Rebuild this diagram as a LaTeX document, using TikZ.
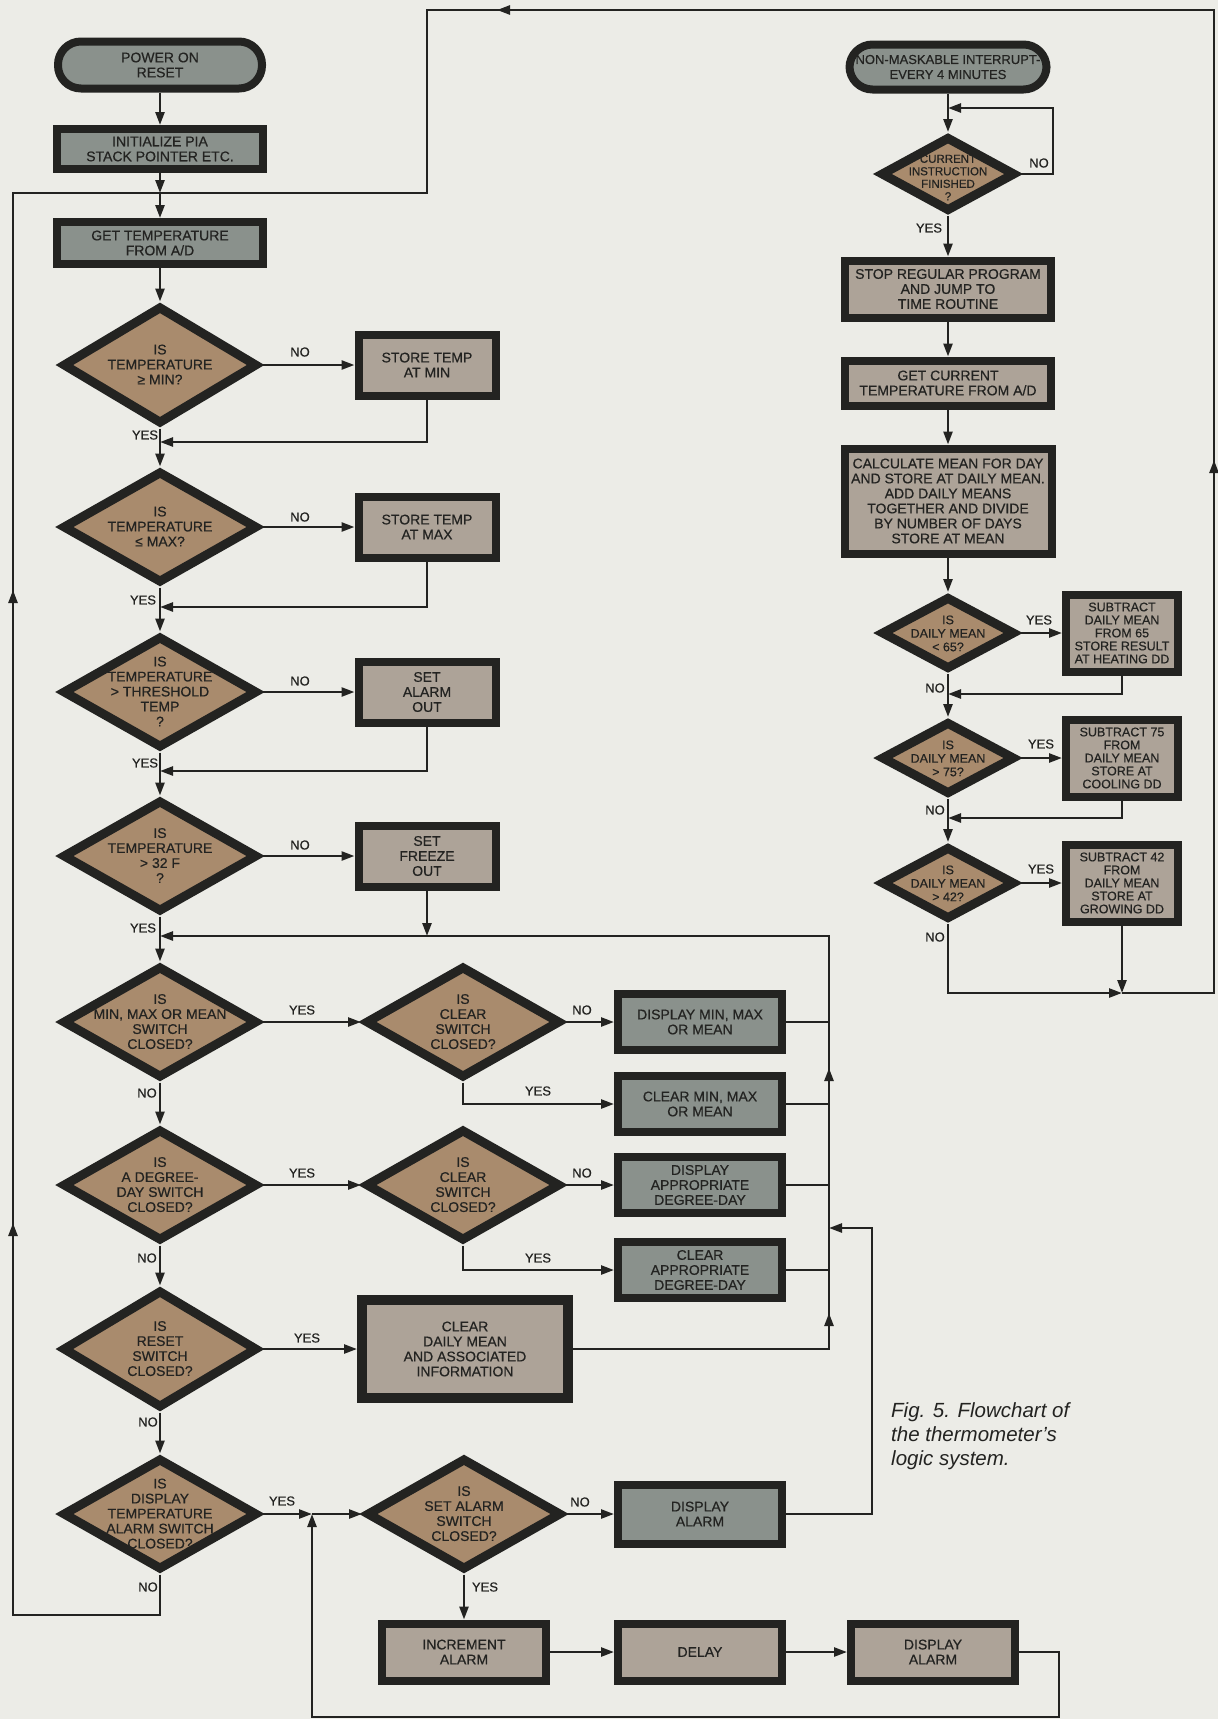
\documentclass[tikz,border=0pt]{standalone}
\usepackage{fontspec}
\setmainfont{Liberation Sans}
\newfontfamily\flowfont{Liberation Sans}[FakeBold=0.5]
\usetikzlibrary{shapes.geometric,arrows.meta,decorations.markings}

\definecolor{paper}{HTML}{ECECE7}
\definecolor{ink}{HTML}{232321}
\definecolor{slate}{HTML}{8A918C}
\definecolor{clay}{HTML}{A98B6D}
\definecolor{sand}{HTML}{ADA398}

\newcommand{\boxfont}{\flowfont\fontsize{14}{15}\selectfont}
\newcommand{\dtext}[2][-5pt]{\makebox[0pt]{\smash{\raisebox{#1}{\begin{tabular}{@{}c@{}}#2\end{tabular}}}}}

\begin{document}
\begin{tikzpicture}[x=1pt, y=-1pt,
  pbox/.style={rectangle, draw=ink, line width=8pt, inner sep=1pt, align=center, text=ink, font=\boxfont},
  gbox/.style={pbox, fill=slate},
  tbox/.style={pbox, fill=sand},
  term/.style={gbox, rounded corners=23pt, inner sep=0pt},
  store/.style={tbox, minimum width=137pt, minimum height=61pt},
  disp/.style={gbox, minimum width=164pt, minimum height=56pt},
  act/.style={tbox, minimum width=164pt, minimum height=57pt},
  sub/.style={tbox, inner sep=0pt, font=\flowfont\fontsize{12.5}{13}\selectfont, minimum width=112pt, minimum height=77pt},
  dec/.style={diamond, draw=ink, line width=9pt, fill=clay, inner sep=0pt, text=ink, font=\boxfont, minimum width=195pt, minimum height=112pt},
  sdec/.style={dec, font=\flowfont\fontsize{12.5}{13.5}\selectfont, minimum width=134pt, minimum height=73pt},
  lbl/.style={font=\flowfont\fontsize{13}{15}\selectfont, text=ink, inner sep=0pt},
  capt/.style={anchor=north west, align=left, inner sep=0pt, text=ink, font=\fontsize{20.5}{24}\selectfont\itshape},
  flow/.style={draw=ink, line width=2.5pt, -{Triangle[length=13pt,width=9pt]}},
  link/.style={draw=ink, line width=2.5pt},
  marr/.style={postaction={decorate, decoration={markings, mark=at position #1 with {\arrow{Triangle[length=13pt,width=9pt]}}}}},
]
% Paper
\fill[paper] (0,0) rectangle (1218,1719);
\useasboundingbox (0,0) rectangle (1218,1719);

% Main program
\node[term, minimum width=204pt, minimum height=47pt] (power) at (160,65) {POWER ON\\RESET};
\node[gbox, minimum width=206pt, minimum height=40pt] (init) at (160,149) {INITIALIZE PIA\\STACK POINTER ETC.};
\node[gbox, minimum width=206pt, minimum height=42pt] (gettemp) at (160,243) {GET TEMPERATURE\\FROM A/D};

\node[dec, minimum height=118pt] (dmin) at (160,365) {\dtext{IS\\TEMPERATURE\\≥ MIN?}};
\node[store] (storemin) at (427,365) {STORE TEMP\\AT MIN};
\node[dec] (dmax) at (160,527) {\dtext{IS\\TEMPERATURE\\≤ MAX?}};
\node[store] (storemax) at (427,527) {STORE TEMP\\AT MAX};
\node[dec] (dthr) at (160,692) {\dtext{IS\\TEMPERATURE\\> THRESHOLD\\TEMP\\?}};
\node[store] (setalarm) at (427,692) {SET\\ALARM\\OUT};
\node[dec] (dfrz) at (160,856) {\dtext{IS\\TEMPERATURE\\> 32 F\\?}};
\node[store] (setfrz) at (427,856) {SET\\FREEZE\\OUT};

% Switch tests
\node[dec] (dsw) at (160,1022) {\dtext{IS\\MIN, MAX OR MEAN\\SWITCH\\CLOSED?}};
\node[dec] (dclr1) at (463,1022) {\dtext{IS\\CLEAR\\SWITCH\\CLOSED?}};
\node[disp] (dispmm) at (700,1022) {DISPLAY MIN, MAX\\OR MEAN};
\node[disp] (clrmm) at (700,1104) {CLEAR MIN, MAX\\OR MEAN};
\node[dec] (ddd) at (160,1185) {\dtext{IS\\A DEGREE-\\DAY SWITCH\\CLOSED?}};
\node[dec] (dclr2) at (463,1185) {\dtext{IS\\CLEAR\\SWITCH\\CLOSED?}};
\node[disp] (dispdd) at (700,1185) {DISPLAY\\APPROPRIATE\\DEGREE-DAY};
\node[disp] (clrdd) at (700,1270) {CLEAR\\APPROPRIATE\\DEGREE-DAY};
\node[dec, minimum height=118pt] (drst) at (160,1349) {\dtext{IS\\RESET\\SWITCH\\CLOSED?}};
\node[tbox, line width=10pt, minimum width=206pt, minimum height=98pt] (clrmean) at (465,1349) {CLEAR\\DAILY MEAN\\AND ASSOCIATED\\INFORMATION};
\node[dec] (dalm) at (160,1514) {\dtext{IS\\DISPLAY\\TEMPERATURE\\ALARM SWITCH\\CLOSED?}};
\node[dec] (dset) at (464,1514) {\dtext{IS\\SET ALARM\\SWITCH\\CLOSED?}};
\node[disp, minimum height=59pt] (dispalm) at (700,1514) {DISPLAY\\ALARM};
\node[act] (incr) at (464,1652) {INCREMENT\\ALARM};
\node[act] (delay) at (700,1652) {DELAY};
\node[act] (dispalm2) at (933,1652) {DISPLAY\\ALARM};

% Timer interrupt
\node[term, font=\flowfont\fontsize{13}{15}\selectfont, minimum width=197pt, minimum height=45pt] (nmi) at (948,67) {NON-MASKABLE INTERRUPT-\\EVERY 4 MINUTES};
\node[sdec, font=\flowfont\fontsize{11.5}{12.5}\selectfont, minimum width=135pt, minimum height=75pt] (dcur) at (948,174) {\dtext[-8pt]{CURRENT\\INSTRUCTION\\FINISHED\\?}};
\node[tbox, minimum width=206pt, minimum height=57pt] (stop) at (948,289) {STOP REGULAR PROGRAM\\AND JUMP TO\\TIME ROUTINE};
\node[tbox, minimum width=206pt, minimum height=45pt] (getcur) at (948,383) {GET CURRENT\\TEMPERATURE FROM A/D};
\node[tbox, minimum width=207pt, minimum height=105pt] (calc) at (948,501) {CALCULATE MEAN FOR DAY\\AND STORE AT DAILY MEAN.\\ADD DAILY MEANS\\TOGETHER AND DIVIDE\\BY NUMBER OF DAYS\\STORE AT MEAN};
\node[sdec] (d65) at (948,633) {\dtext{IS\\DAILY MEAN\\< 65?}};
\node[sub] (sub65) at (1122,633) {SUBTRACT\\DAILY MEAN\\FROM 65\\STORE RESULT\\AT HEATING DD};
\node[sdec] (d75) at (948,758) {\dtext{IS\\DAILY MEAN\\> 75?}};
\node[sub] (sub75) at (1122,758) {SUBTRACT 75\\FROM\\DAILY MEAN\\STORE AT\\COOLING DD};
\node[sdec] (d42) at (948,883) {\dtext{IS\\DAILY MEAN\\> 42?}};
\node[sub] (sub42) at (1122,883) {SUBTRACT 42\\FROM\\DAILY MEAN\\STORE AT\\GROWING DD};

% Caption
\node[capt] (caption) at (891,1402) {Fig. 5. Flowchart of\\the thermometer’s\\logic system.};

% Junctions and bends
\coordinate (jtop) at (160,193);
\coordinate (jmin) at (160,442);
\coordinate (jmax) at (160,607);
\coordinate (jthr) at (160,771);
\coordinate (jfrz) at (160,936);
\coordinate (lbot) at (13,1615);
\coordinate (ltop) at (13,193);
\coordinate (cbot) at (829,1349);
\coordinate (ctop) at (829,936);
\coordinate (dtop) at (872,1228);
\coordinate (cj) at (829,1228);
\coordinate (jalm) at (312,1514);
\coordinate (brt) at (1059,1717);
\coordinate (blt) at (312,1717);
\coordinate (curtop) at (1053,108);
\coordinate (curj) at (948,108);
\coordinate (j65) at (948,694);
\coordinate (j75) at (948,818);
\coordinate (j42) at (1122,993);
\coordinate (rb) at (1214,993);
\coordinate (rt) at (1214,10);
\coordinate (lt) at (427,10);
\coordinate (ltb) at (427,193);

% Main flow
\draw[flow] (power.south) -- (init.north);
\draw[flow] (init.south) -- (jtop);
\draw[flow] (jtop) -- (gettemp.north);
\draw[flow] (gettemp.south) -- (dmin.north);
\draw[flow] (dmin.east) -- (storemin.west);
\draw[flow] (storemin.south) |- (jmin);
\draw[flow] (dmin.south) -- (dmax.north);
\draw[flow] (dmax.east) -- (storemax.west);
\draw[flow] (storemax.south) |- (jmax);
\draw[flow] (dmax.south) -- (dthr.north);
\draw[flow] (dthr.east) -- (setalarm.west);
\draw[flow] (setalarm.south) |- (jthr);
\draw[flow] (dthr.south) -- (dfrz.north);
\draw[flow] (dfrz.east) -- (setfrz.west);
\draw[flow] (setfrz.south) -- (setfrz.south |- jfrz);
\draw[flow] (dfrz.south) -- (dsw.north);

\draw[flow] (dsw.east) -- (dclr1.west);
\draw[flow] (dclr1.east) -- (dispmm.west);
\draw[flow] (dclr1.south) |- (clrmm.west);
\draw[flow] (dsw.south) -- (ddd.north);
\draw[flow] (ddd.east) -- (dclr2.west);
\draw[flow] (dclr2.east) -- (dispdd.west);
\draw[flow] (dclr2.south) |- (clrdd.west);
\draw[flow] (ddd.south) -- (drst.north);
\draw[flow] (drst.east) -- (clrmean.west);
\draw[flow] (drst.south) -- (dalm.north);
\draw[flow] (dalm.east) -- (jalm);
\draw[flow] (jalm) -- (dset.west);
\draw[flow] (dset.east) -- (dispalm.west);
\draw[flow] (dset.south) -- (incr.north);
\draw[flow] (incr.east) -- (delay.west);
\draw[flow] (delay.east) -- (dispalm2.west);

% Return paths
\draw[link] (dispmm.east) -- (dispmm.east -| cbot);
\draw[link] (clrmm.east) -- (clrmm.east -| cbot);
\draw[link] (dispdd.east) -- (dispdd.east -| cbot);
\draw[link] (clrdd.east) -- (clrdd.east -| cbot);
\draw[flow, marr=-801pt, marr=-1046pt] (clrmean.east) -- (cbot) -- (ctop) -- (jfrz);
\draw[flow] (dispalm.east) -| (dtop) -- (cj);
\draw[flow] (dispalm2.east) -| (brt) -- (blt) -- (jalm);
\draw[link, marr=-544pt, marr=-1177pt] (dalm.south) |- (lbot) -- (ltop) -- (jtop);

% Interrupt routine
\draw[flow] (nmi.south) -- (dcur.north);
\draw[flow] (dcur.east) -| (curtop) -- (curj);
\draw[flow] (dcur.south) -- (stop.north);
\draw[flow] (stop.south) -- (getcur.north);
\draw[flow] (getcur.south) -- (calc.north);
\draw[flow] (calc.south) -- (d65.north);
\draw[flow] (d65.east) -- (sub65.west);
\draw[flow] (sub65.south) |- (j65);
\draw[flow] (d65.south) -- (d75.north);
\draw[flow] (d75.east) -- (sub75.west);
\draw[flow] (sub75.south) |- (j75);
\draw[flow] (d75.south) -- (d42.north);
\draw[flow] (d42.east) -- (sub42.west);
\draw[flow] (sub42.south) -- (j42);
\draw[flow] (d42.south) |- (j42);
\draw[link, marr=625pt, marr=1792pt] (j42) -- (rb) -- (rt) -- (lt) -- (ltb) -- (jtop);

% Branch labels
\node[lbl] (nmin) at (300,352) {NO};
\node[lbl] (ymin) at (145,435) {YES};
\node[lbl] (nmax) at (300,517) {NO};
\node[lbl] (ymax) at (143,600) {YES};
\node[lbl] (nthr) at (300,681) {NO};
\node[lbl] (ythr) at (145,763) {YES};
\node[lbl] (nfrz) at (300,845) {NO};
\node[lbl] (yfrz) at (143,928) {YES};
\node[lbl] (ysw) at (302,1010) {YES};
\node[lbl] (nsw) at (147,1093) {NO};
\node[lbl] (nclr1) at (582,1010) {NO};
\node[lbl] (yclr1) at (538,1091) {YES};
\node[lbl] (yddd) at (302,1173) {YES};
\node[lbl] (nddd) at (147,1258) {NO};
\node[lbl] (nclr2) at (582,1173) {NO};
\node[lbl] (yclr2) at (538,1258) {YES};
\node[lbl] (yrst) at (307,1338) {YES};
\node[lbl] (nrst) at (148,1422) {NO};
\node[lbl] (yalm) at (282,1501) {YES};
\node[lbl] (nalm) at (148,1587) {NO};
\node[lbl] (nset) at (580,1502) {NO};
\node[lbl] (yset) at (485,1587) {YES};
\node[lbl] (ncur) at (1039,163) {NO};
\node[lbl] (ycur) at (929,228) {YES};
\node[lbl] (y65) at (1039,620) {YES};
\node[lbl] (n65) at (935,688) {NO};
\node[lbl] (y75) at (1041,744) {YES};
\node[lbl] (n75) at (935,810) {NO};
\node[lbl] (y42) at (1041,869) {YES};
\node[lbl] (n42) at (935,937) {NO};
\end{tikzpicture}
\end{document}
